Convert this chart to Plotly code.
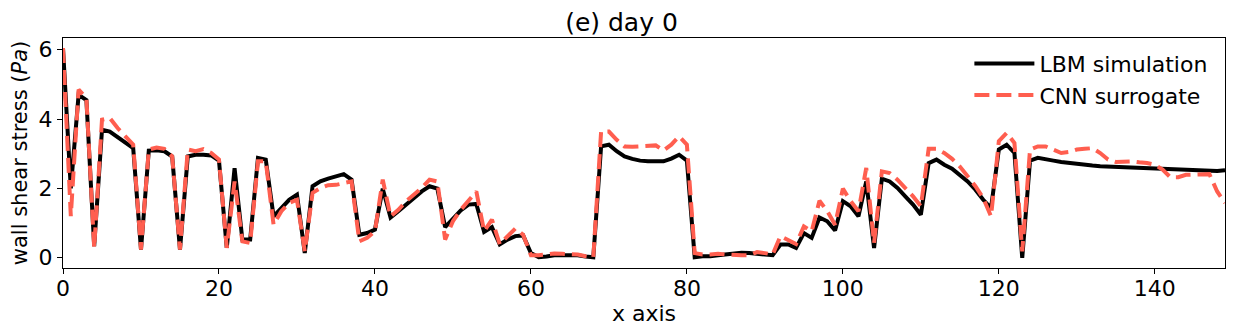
import plotly.graph_objects as go

# wall shear stress along x (x = 0..149)
x_vals = list(range(150))

lbm = [
    6.05, 2.0, 4.7, 4.55, 0.33, 3.69, 3.64, 3.47, 3.31, 3.16,
    0.23, 3.09, 3.1, 3.07, 2.92, 0.23, 2.92, 2.97, 2.97, 2.95,
    2.8, 0.28, 2.58, 0.52, 0.52, 2.88, 2.83, 1.19, 1.43, 1.67,
    1.82, 0.13, 2.06, 2.2, 2.28, 2.35, 2.41, 2.25, 0.66, 0.71,
    0.81, 1.99, 1.16, 1.34, 1.53, 1.72, 1.91, 2.06, 1.99, 0.88,
    1.14, 1.36, 1.53, 1.55, 0.74, 0.88, 0.38, 0.52, 0.62, 0.64,
    0.13, 0.01, 0.03, 0.07, 0.07, 0.07, 0.07, 0.03, 0.01, 3.21,
    3.26, 3.07, 2.92, 2.85, 2.8, 2.78, 2.77, 2.78, 2.86, 2.97,
    2.8, 0.01, 0.04, 0.04, 0.07, 0.09, 0.11, 0.14, 0.13, 0.11,
    0.07, 0.07, 0.38, 0.38, 0.28, 0.71, 0.57, 1.16, 1.05, 0.78,
    1.63, 1.48, 1.19, 2.2, 0.28, 2.28, 2.2, 2.01, 1.77, 1.53,
    1.24, 2.73, 2.83, 2.68, 2.57, 2.39, 2.2, 1.96, 1.67, 1.43,
    3.12, 3.26, 3.02, -0.01, 2.8, 2.88, 2.83, 2.8, 2.76, 2.73,
    2.7, 2.68, 2.66, 2.64, 2.63, 2.62, 2.61, 2.6, 2.59, 2.58,
    2.57, 2.55, 2.54, 2.53, 2.52, 2.51, 2.51, 2.5, 2.5, 2.52,
]

cnn = [
    6.05, 1.2, 4.85, 4.6, 0.28, 3.98, 4.03, 3.74, 3.5, 3.26,
    0.23, 3.12, 3.18, 3.14, 2.92, 0.23, 3.12, 3.07, 3.13, 3.02,
    2.83, 0.28, 2.2, 0.47, 0.42, 2.78, 2.78, 0.95, 1.34, 1.58,
    1.67, 0.18, 1.87, 2.01, 2.09, 2.1, 2.15, 2.2, 0.47, 0.57,
    0.76, 2.25, 1.19, 1.38, 1.63, 1.82, 2.01, 2.25, 2.2, 0.52,
    1.05, 1.38, 1.63, 1.91, 0.76, 1.1, 0.39, 0.62, 0.84, 0.66,
    0.07, 0.07, 0.09, 0.12, 0.11, 0.09, 0.09, 0.04, 0.01, 3.64,
    3.64, 3.4, 3.21, 3.2, 3.22, 3.23, 3.24, 3.09, 3.26, 3.5,
    3.26, 0.13, 0.09, 0.09, 0.11, 0.09, 0.07, 0.07, 0.07, 0.16,
    0.13, 0.09, 0.62, 0.52, 0.39, 0.9, 0.76, 1.64, 1.34, 0.95,
    1.99, 1.63, 1.34, 2.59, 0.42, 2.49, 2.44, 2.25, 2.01, 1.77,
    1.48, 3.14, 3.14, 3.02, 2.85, 2.63, 2.35, 2.06, 1.72, 1.19,
    3.36, 3.6, 3.31, 0.18, 3.12, 3.21, 3.21, 3.12, 3.02, 3.05,
    3.12, 3.14, 3.16, 3.02, 2.83, 2.76, 2.76, 2.78, 2.75, 2.73,
    2.68, 2.54, 2.32, 2.32, 2.39, 2.39, 2.41, 2.41, 1.91, 1.58,
]

x_ticks = [0, 20, 40, 60, 80, 100, 120, 140]
y_ticks = [0, 2, 4, 6]

FONT = "DejaVu Sans"

fig = go.Figure()
fig.add_trace(go.Scatter(
    x=x_vals, y=lbm, mode="lines", name="LBM simulation",
    line=dict(color="black", width=4),
))
fig.add_trace(go.Scatter(
    x=x_vals, y=cnn, mode="lines", name="CNN surrogate",
    line=dict(color="#FF5E4F", width=4, dash="15px,7px"),
))

axis_common = dict(
    showline=True, linecolor="black", linewidth=1, mirror=True,
    ticks="outside", ticklen=5, tickwidth=1, tickcolor="black",
    showgrid=False, zeroline=False, automargin=False,
    tickfont=dict(family=FONT, size=22, color="black"),
)

fig.update_xaxes(
    range=[0, 149], tickvals=x_ticks, ticklabelstandoff=-4,
    title=dict(text="x axis", font=dict(family=FONT, size=22, color="black"), standoff=0),
    **axis_common,
)
fig.update_yaxes(
    range=[-0.3, 6.34], tickvals=y_ticks,
    title=dict(text="wall shear stress (<i>Pa</i>)", font=dict(family=FONT, size=21, color="black"), standoff=6),
    **axis_common,
)

# page body adds an 8px margin, so the figure is sized 8px smaller
fig.update_layout(
    width=1227, height=326,
    template="plotly_white",
    plot_bgcolor="white", paper_bgcolor="white",
    margin=dict(l=55, r=10, t=30, b=66, autoexpand=False),
    title=dict(text="(e) day 0", x=0.5, xanchor="center", yref="container", y=0.982, yanchor="top",
               font=dict(family=FONT, size=25, color="black"), automargin=False),
    legend=dict(
        x=0.99, xanchor="right", y=0.98, yanchor="top",
        bgcolor="rgba(0,0,0,0)", font=dict(family=FONT, size=22, color="black"),
        itemwidth=60, tracegroupgap=0,
    ),
)

fig.write_html("out.html")
